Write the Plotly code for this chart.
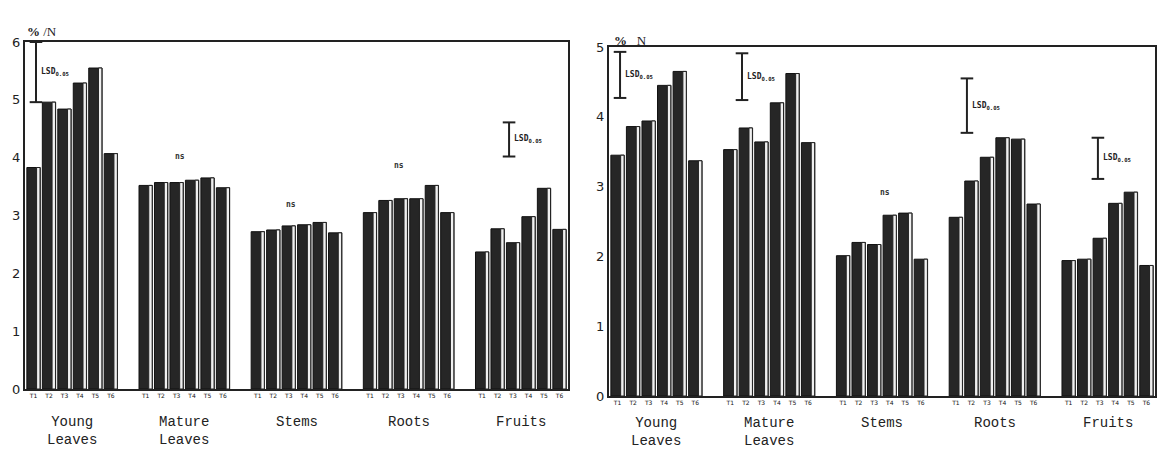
import plotly.graph_objects as go

groups = ["Young<br>Leaves", "Mature<br>Leaves", "Stems", "Roots", "Fruits"]
treatments = ["T1", "T2", "T3", "T4", "T5", "T6"]

# Left panel (%N)
left_values = {
    "Young<br>Leaves": [3.83, 4.96, 4.84, 5.29, 5.55, 4.07],
    "Mature<br>Leaves": [3.52, 3.57, 3.57, 3.61, 3.65, 3.48],
    "Stems": [2.72, 2.75, 2.82, 2.84, 2.88, 2.70],
    "Roots": [3.05, 3.26, 3.29, 3.29, 3.52, 3.05],
    "Fruits": [2.37, 2.77, 2.53, 2.98, 3.47, 2.76],
}
# Right panel (%N)
right_values = {
    "Young<br>Leaves": [3.45, 3.86, 3.94, 4.45, 4.65, 3.37],
    "Mature<br>Leaves": [3.53, 3.84, 3.64, 4.20, 4.62, 3.63],
    "Stems": [2.01, 2.20, 2.17, 2.59, 2.62, 1.96],
    "Roots": [2.56, 3.08, 3.42, 3.70, 3.68, 2.75],
    "Fruits": [1.94, 1.96, 2.26, 2.76, 2.92, 1.87],
}

# LSD0.05 bars: (group, position within group, low, high)
left_lsd = [("Young<br>Leaves", 0.16, 4.96, 6.0), ("Fruits", 1.74, 4.02, 4.61)]
right_lsd = [("Young<br>Leaves", 0.16, 4.27, 4.93), ("Mature<br>Leaves", 0.75, 4.24, 4.91),
             ("Roots", 0.71, 3.77, 4.55), ("Fruits", 1.88, 3.11, 3.70)]
# "ns" marks: (group, position within group, height)
left_ns = [("Mature<br>Leaves", 2.2, 4.02), ("Stems", 2.17, 3.19), ("Roots", 1.89, 3.87)]
right_ns = [("Stems", 2.69, 2.92)]

left_yticks = [0, 1, 2, 3, 4, 5, 6]
right_yticks = [0, 1, 2, 3, 4, 5]

PERIOD = 7.25
DARK = "#262626"


def gx(g, t):
    return groups.index(g) * PERIOD + t


fig = go.Figure()


def add_panel(values, lsd, ns, xa, ya, yticks, label_y):
    xs, ys, tt = [], [], []
    for g in groups:
        for i, v in enumerate(values[g]):
            xs.append(gx(g, i))
            ys.append(v)
            tt.append(treatments[i])
    fig.add_trace(go.Bar(x=xs, y=ys, width=0.86, marker=dict(color=DARK, line=dict(color="#111", width=1)),
                         xaxis=xa, yaxis=ya, showlegend=False, hoverinfo="y"))
    fig.add_trace(go.Bar(x=xs, y=ys, width=0.22, offset=0.2,
                         marker=dict(color="#f0f0f0", line=dict(color="#222", width=1)),
                         xaxis=xa, yaxis=ya, showlegend=False, hoverinfo="skip"))
    lx, ly = [], []
    for g, t, lo, hi in lsd:
        lx += [gx(g, t), gx(g, t), None]
        ly += [lo, hi, None]
    fig.add_trace(go.Scatter(x=lx, y=ly, mode="lines+markers", xaxis=xa, yaxis=ya,
                             line=dict(color="#222", width=2),
                             marker=dict(symbol="line-ew", size=9, line=dict(color="#222", width=2)),
                             showlegend=False, hoverinfo="skip"))
    for g, t, lo, hi in lsd:
        fig.add_annotation(x=gx(g, t), y=(lo + hi) / 2, xref=xa, yref=ya, xanchor="left", xshift=3,
                           text="<b>LSD<sub>0.05</sub></b>", showarrow=False,
                           font=dict(family="DejaVu Sans Mono", size=8, color="#222"))
    for g, t, h in ns:
        fig.add_annotation(x=gx(g, t), y=h, xref=xa, yref=ya, text="<b>ns</b>", showarrow=False,
                           font=dict(family="DejaVu Sans Mono", size=8, color="#333"))
    axn = "xaxis" if xa == "x" else "xaxis" + xa[1:]
    fig.layout[axn].update(tickvals=xs, ticktext=tt)
    for g in groups:
        fig.add_annotation(x=gx(g, 2.5), y=label_y, xref=xa, yref=("y domain" if ya == "y" else ya + " domain"),
                           yanchor="top", text=g, showarrow=False, align="center",
                           font=dict(family="Liberation Mono", size=14, color="#222"))


common_x = dict(showgrid=False, zeroline=False, showline=True, mirror=True, linecolor="#222", linewidth=2,
                ticks="", automargin=False, tickfont=dict(family="DejaVu Sans", size=6, color="#111"),
                range=[-0.55, 4 * PERIOD + 5.55])
common_y = dict(showgrid=False, zeroline=False, showline=True, mirror=True, linecolor="#222", linewidth=2,
                ticks="", automargin=False, tickfont=dict(family="DejaVu Sans", size=13, color="#222"))

fig.update_layout(
    width=1161, height=454, margin=dict(l=0, r=0, t=0, b=0),
    paper_bgcolor="white", plot_bgcolor="white", barmode="overlay",
    xaxis=dict(domain=[25 / 1161, 568 / 1161], anchor="y", **common_x),
    yaxis=dict(domain=[1 - 389 / 454, 1 - 42 / 454], anchor="x", range=[0, 6], tickvals=left_yticks, **common_y),
    xaxis2=dict(domain=[609 / 1161, 1155 / 1161], anchor="y2", **common_x),
    yaxis2=dict(domain=[1 - 396 / 454, 1 - 47 / 454], anchor="x2", range=[0, 5], tickvals=right_yticks, **common_y),
)

add_panel(left_values, left_lsd, left_ns, "x", "y", left_yticks, -0.065)
add_panel(right_values, right_lsd, right_ns, "x2", "y2", right_yticks, -0.05)

fig.add_annotation(x=25 / 1161, y=1 - 22 / 454, xref="paper", yref="paper", xanchor="left", text="<b>%</b> /N",
                   showarrow=False, font=dict(family="Liberation Serif", size=13, color="#222"))
fig.add_annotation(x=612 / 1161, y=1 - 31 / 454, xref="paper", yref="paper", xanchor="left", text="<b>%</b>   N",
                   showarrow=False, font=dict(family="Liberation Serif", size=13, color="#222"))

fig.write_html("out.html", config={"displayModeBar": False},
               post_script="document.body.style.margin='0';")
